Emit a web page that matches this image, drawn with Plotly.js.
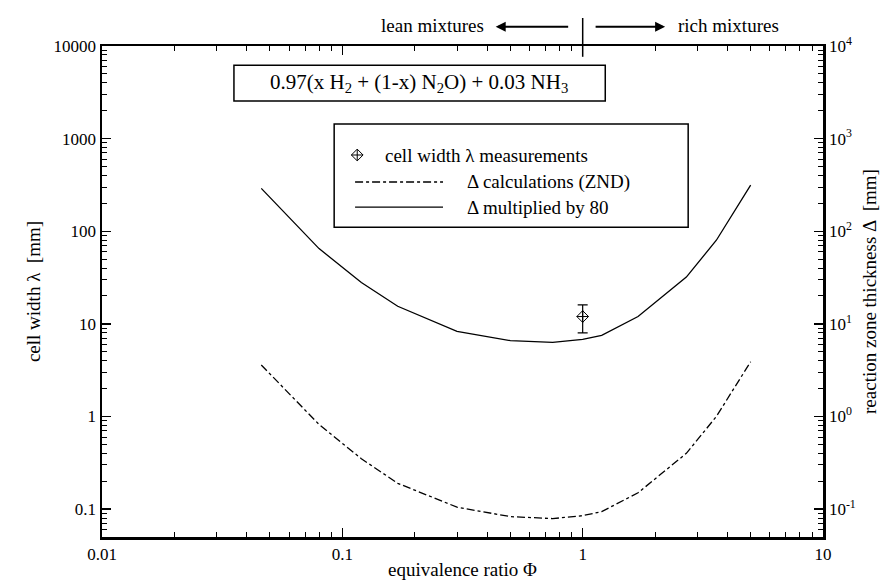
<!DOCTYPE html>
<html>
<head>
<meta charset="utf-8">
<script src="https://cdn.plot.ly/plotly-3.0.1.min.js"></script>
<style>html,body{margin:0;padding:0;background:#fff;}#chart{width:891px;height:588px;}</style>
</head>
<body>
<div id="chart"></div>
<script>
// Equivalence ratio values along the calculated curves
const phiCalc = [0.046, 0.08, 0.12, 0.17, 0.3, 0.5, 0.75, 1.0, 1.2, 1.7, 2.7, 3.6, 5.0];
// Reaction zone thickness Δ (ZND) [mm]
const deltaZND = [3.6, 0.82, 0.35, 0.19, 0.105, 0.083, 0.079, 0.085, 0.094, 0.15, 0.4, 1.0, 3.9];
// Δ multiplied by 80 [mm]
const delta80 = [290, 65, 28, 15.5, 8.3, 6.6, 6.3, 6.8, 7.5, 12, 32, 80, 315];
// Cell width measurement
const phiMeas = [1.0];
const lambdaMeas = [12];
const lambdaErrPlus = [4];
const lambdaErrMinus = [4];

// Axis ticks
const yTickVals = [0.1, 1, 10, 100, 1000, 10000];
const yTickText = ["0.1", "1", "10", "100", "1000", "10000"];
const y2TickText = ["10<sup>-1</sup>", "10<sup>0</sup>", "10<sup>1</sup>", "10<sup>2</sup>", "10<sup>3</sup>", "10<sup>4</sup>"];
const xTickVals = [0.01, 0.1, 1, 10];
const xTickText = ["0.01", "0.1", "1", "10"];
const minorDigits = [2, 3, 4, 5, 6, 7, 8, 9];
const yDecades = [0.01, 0.1, 1, 10, 100, 1000];
const xDecades = [0.01, 0.1, 1];
const yMinor = [].concat(...yDecades.map(d => minorDigits.map(m => m * d)));
const xMinor = [].concat(...xDecades.map(d => minorDigits.map(m => m * d)));

const FONT = "Liberation Serif";
const yRange = [Math.log10(0.05), 4];

const traces = [
  {x: phiCalc, y: delta80, mode: "lines", line: {color: "#000", width: 1.3}, xaxis: "x", yaxis: "y", showlegend: false},
  {x: phiCalc, y: deltaZND, mode: "lines", line: {color: "#000", width: 1.3, dash: "8px,3px,3px,3px"}, xaxis: "x", yaxis: "y2", showlegend: false},
  {x: phiMeas, y: lambdaMeas, mode: "markers", xaxis: "x", yaxis: "y",
   marker: {symbol: "diamond-cross-open", size: 9, color: "#000", line: {width: 1}},
   error_y: {type: "data", symmetric: false, array: lambdaErrPlus, arrayminus: lambdaErrMinus, color: "#000", thickness: 1.2, width: 5},
   showlegend: false},
  {x: [0.354], y: [0.778], mode: "markers", xaxis: "x3", yaxis: "y3",
   marker: {symbol: "diamond-cross-open", size: 9, color: "#000", line: {width: 1}}, showlegend: false, hoverinfo: "skip"}
];

function axisBase(minorVals) {
  return {
    showgrid: false, zeroline: false, showline: true, linecolor: "#000", linewidth: 2.5,
    ticks: "inside", ticklen: 9, tickwidth: 1.3, tickcolor: "#000",
    tickfont: {family: FONT, size: 17, color: "#000"},
    minor: {ticks: "inside", ticklen: 5, tickwidth: 1, tickcolor: "#000", showgrid: false, tickmode: "array", tickvals: minorVals}
  };
}

const layout = {
  width: 891, height: 588,
  margin: {l: 102, r: 68, t: 46, b: 51},
  paper_bgcolor: "#fff", plot_bgcolor: "#fff",
  showlegend: false,
  font: {family: FONT, color: "#000"},
  xaxis: Object.assign(axisBase(xMinor), {
    type: "log", range: [-2, 1], tickmode: "array", tickvals: xTickVals, ticktext: xTickText, mirror: "ticks",
    title: {text: "equivalence ratio Φ", font: {family: FONT, size: 19, color: "#000"}, standoff: 0}
  }),
  yaxis: Object.assign(axisBase(yMinor), {
    type: "log", range: yRange, tickmode: "array", tickvals: yTickVals, ticktext: yTickText,
    title: {text: "cell width λ  [mm]", font: {family: FONT, size: 19, color: "#000"}, standoff: 8}
  }),
  yaxis2: Object.assign(axisBase(yMinor), {
    type: "log", range: yRange, tickmode: "array", tickvals: yTickVals, ticktext: y2TickText,
    overlaying: "y", side: "right",
    title: {text: "reaction zone thickness Δ  [mm]", font: {family: FONT, size: 19, color: "#000"}, standoff: 8}
  }),
  xaxis3: {range: [0, 1], visible: false, overlaying: "x", fixedrange: true},
  yaxis3: {range: [0, 1], visible: false, overlaying: "y", fixedrange: true},
  shapes: [
    {type: "rect", xref: "paper", yref: "paper", x0: 0.183, x1: 0.698, y0: 0.888, y1: 0.961, line: {color: "#000", width: 1.5}, fillcolor: "#fff", layer: "below"},
    {type: "rect", xref: "paper", yref: "paper", x0: 0.322, x1: 0.813, y0: 0.631, y1: 0.841, line: {color: "#000", width: 1.5}, fillcolor: "#fff", layer: "below"},
    {type: "line", xref: "paper", yref: "paper", x0: 0.351, x1: 0.473, y0: 0.723, y1: 0.723, line: {color: "#000", width: 1.3, dash: "8px,3px,3px,3px"}},
    {type: "line", xref: "paper", yref: "paper", x0: 0.351, x1: 0.473, y0: 0.672, y1: 0.672, line: {color: "#000", width: 1.3}},
    {type: "line", xref: "paper", yref: "paper", x0: 0.6667, x1: 0.6667, y0: 0.978, y1: 1.057, line: {color: "#000", width: 1.5}}
  ],
  annotations: [
    {xref: "paper", yref: "paper", x: 0.44, y: 0.925, text: "0.97(x H<sub>2</sub> + (1-x) N<sub>2</sub>O) + 0.03 NH<sub>3</sub>", showarrow: false, font: {family: FONT, size: 21, color: "#000"}, xanchor: "center", yanchor: "middle"},
    {xref: "paper", yref: "paper", x: 0.39, y: 0.778, text: "cell width λ measurements", showarrow: false, font: {family: FONT, size: 19, color: "#000"}, xanchor: "left", yanchor: "middle"},
    {xref: "paper", yref: "paper", x: 0.503, y: 0.723, text: "Δ calculations (ZND)", showarrow: false, font: {family: FONT, size: 19, color: "#000"}, xanchor: "left", yanchor: "middle"},
    {xref: "paper", yref: "paper", x: 0.503, y: 0.672, text: "Δ multiplied by 80", showarrow: false, font: {family: FONT, size: 19, color: "#000"}, xanchor: "left", yanchor: "middle"},
    {xref: "paper", yref: "paper", x: 0.533, y: 1.042, text: "lean mixtures", showarrow: false, font: {family: FONT, size: 19, color: "#000"}, xanchor: "right", yanchor: "middle"},
    {xref: "paper", yref: "paper", x: 0.796, y: 1.042, text: "rich mixtures", showarrow: false, font: {family: FONT, size: 19, color: "#000"}, xanchor: "left", yanchor: "middle"},
    {xref: "paper", yref: "paper", x: 0.546, y: 1.039, text: "", showarrow: true, ax: 74, ay: 0, arrowhead: 2, arrowsize: 1, arrowwidth: 2, arrowcolor: "#000"},
    {xref: "paper", yref: "paper", x: 0.781, y: 1.039, text: "", showarrow: true, ax: -71, ay: 0, arrowhead: 2, arrowsize: 1, arrowwidth: 2, arrowcolor: "#000"}
  ]
};

Plotly.newPlot("chart", traces, layout, {displayModeBar: false, staticPlot: true});
</script>
</body>
</html>
